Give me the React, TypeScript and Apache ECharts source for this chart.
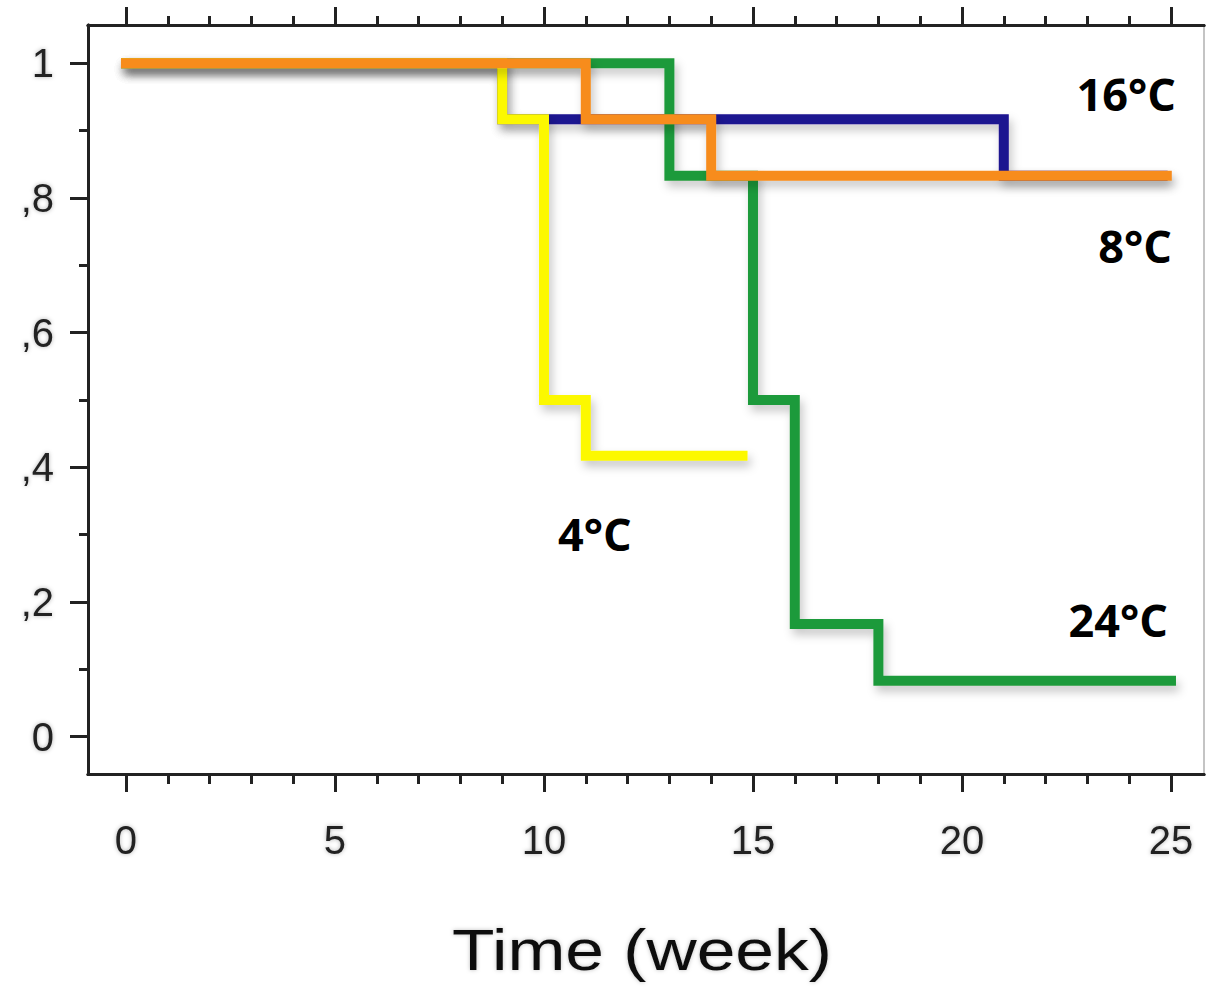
import React, { useEffect, useRef } from "react";
import * as echarts from "echarts";

// ---- data ----
const orangeWeeks = [0, 11, 14, 24.9];
const orangeSurv = [1, 0.917, 0.833, 0.833];
const blueWeeks = [0, 9, 21, 24.8];
const blueSurv = [1, 0.917, 0.833, 0.833];
const yellowWeeks = [0, 9, 10, 11, 14.75];
const yellowSurv = [1, 0.917, 0.5, 0.417, 0.417];
const greenWeeks = [0, 13, 15, 16, 18, 25];
const greenSurv = [1, 0.833, 0.5, 0.167, 0.083, 0.083];

const xMajorTicks = [0, 5, 10, 15, 20, 25];
const xMinorTicks = [1, 2, 3, 4, 6, 7, 8, 9, 11, 12, 13, 14, 16, 17, 18, 19, 21, 22, 23, 24];
const yMajorTicks = [0, 0.2, 0.4, 0.6, 0.8, 1];
const yTickLabels = ["0", ",2", ",4", ",6", ",8", "1"];
const yMinorTicks = [0.1, 0.3, 0.5, 0.7, 0.9];

const annotations = [
  { text: "16°C", x: 1176, y: 93, align: "right" },
  { text: "8°C", x: 1172, y: 245, align: "right" },
  { text: "4°C", x: 558, y: 533, align: "left" },
  { text: "24°C", x: 1168, y: 619, align: "right" },
];

const X_MIN = -0.909;
const X_MAX = 25.79;
const Y_MIN = -0.0557;
const Y_MAX = 1.057;

const AXIS_COLOR = "#222";
const LABEL_COLOR = "#222";

function zip(xs: number[], ys: number[]) {
  return xs.map((x, i) => [x, ys[i]]);
}

export default function App() {
  const ref = useRef<HTMLDivElement>(null);

  useEffect(() => {
    if (!ref.current) return;
    const chart = echarts.init(ref.current, undefined, { renderer: "svg" });

    const axisLine = { show: true, onZero: false, lineStyle: { color: AXIS_COLOR, width: 3 } };
    const baseX = {
      type: "value" as const,
      min: X_MIN,
      max: X_MAX,
      splitLine: { show: false },
      axisLine,
    };
    const baseY = {
      type: "value" as const,
      min: Y_MIN,
      max: Y_MAX,
      splitLine: { show: false },
      axisLine,
    };

    const lineSeries = (name: string, data: number[][], color: string, z: number) => ({
      name,
      type: "line",
      step: "end",
      data,
      xAxisIndex: 0,
      yAxisIndex: 0,
      symbol: "none",
      z,
      lineStyle: {
        color,
        width: 10,
        cap: "square",
        join: "miter",
        shadowColor: "rgba(0,0,0,0.22)",
        shadowBlur: 10,
        shadowOffsetX: 3,
        shadowOffsetY: 6,
      },
    });

    const labelFont = {
      color: LABEL_COLOR,
      fontFamily: "Liberation Sans, Arial, sans-serif",
      fontSize: 40,
      textShadowColor: "rgba(0,0,0,0.3)",
      textShadowBlur: 4,
    };

    chart.setOption({
      animation: false,
      backgroundColor: "#ffffff",
      grid: { left: 88, top: 25, right: 4, bottom: 222, containLabel: false },
      xAxis: [
        {
          ...baseX,
          position: "bottom",
          axisTick: { show: true, length: 18, lineStyle: { color: AXIS_COLOR, width: 3 }, customValues: xMajorTicks },
          axisLabel: { show: true, margin: 46, customValues: xMajorTicks, ...labelFont },
        },
        {
          ...baseX,
          position: "bottom",
          axisTick: { show: true, length: 10, lineStyle: { color: AXIS_COLOR, width: 3 }, customValues: xMinorTicks },
          axisLabel: { show: false },
        },
        {
          ...baseX,
          position: "top",
          axisTick: { show: true, length: 18, lineStyle: { color: AXIS_COLOR, width: 3 }, customValues: xMajorTicks },
          axisLabel: { show: false },
        },
        {
          ...baseX,
          position: "top",
          axisTick: { show: true, length: 9, lineStyle: { color: AXIS_COLOR, width: 3 }, customValues: xMinorTicks },
          axisLabel: { show: false },
        },
      ],
      yAxis: [
        {
          ...baseY,
          position: "left",
          axisTick: { show: true, length: 18, lineStyle: { color: AXIS_COLOR, width: 3 }, customValues: yMajorTicks },
          axisLabel: {
            show: true,
            margin: 34,
            customValues: yMajorTicks,
            formatter: (v: number) => {
              const i = yMajorTicks.findIndex((t) => Math.abs(t - v) < 1e-6);
              return i >= 0 ? yTickLabels[i] : "";
            },
            ...labelFont,
          },
        },
        {
          ...baseY,
          position: "left",
          axisTick: { show: true, length: 9, lineStyle: { color: AXIS_COLOR, width: 3 }, customValues: yMinorTicks },
          axisLabel: { show: false },
        },
        {
          ...baseY,
          position: "right",
          axisLine: { show: true, onZero: false, lineStyle: { color: "#c4c4c4", width: 2 } },
          axisTick: { show: false },
          axisLabel: { show: false },
        },
      ],
      series: [
        lineSeries("blue", zip(blueWeeks, blueSurv), "#1c1290", 2),
        lineSeries("green", zip(greenWeeks, greenSurv), "#1f9a3a", 3),
        lineSeries("yellow", zip(yellowWeeks, yellowSurv), "#fcf800", 4),
        lineSeries("orange", zip(orangeWeeks, orangeSurv), "#f78c1e", 5),
      ],
      graphic: [
        ...annotations.map((a) => ({
          type: "text",
          x: a.x,
          y: a.y,
          z: 100,
          style: {
            text: a.text,
            x: 0,
            y: 0,
            fill: "#000",
            font: "bold 45px 'Open Sans', 'Noto Sans', sans-serif",
            align: a.align,
            textAlign: a.align,
            verticalAlign: "middle",
            textVerticalAlign: "middle",
          },
        })),
        {
          type: "text",
          x: 642,
          y: 950,
          scaleX: 1.22,
          z: 100,
          style: {
            text: "Time (week)",
            x: 0,
            y: 0,
            fill: "#111",
            font: "57px 'Liberation Sans', Arial, sans-serif",
            align: "center",
            textAlign: "center",
            verticalAlign: "middle",
            textVerticalAlign: "middle",
            textShadowColor: "rgba(0,0,0,0.25)",
            textShadowBlur: 4,
          },
        },
      ],
    });

    return () => chart.dispose();
  }, []);

  return (
    <div
      ref={ref}
      style={{ position: "fixed", left: 0, top: 0, width: 1208, height: 996, background: "#fff" }}
    />
  );
}
